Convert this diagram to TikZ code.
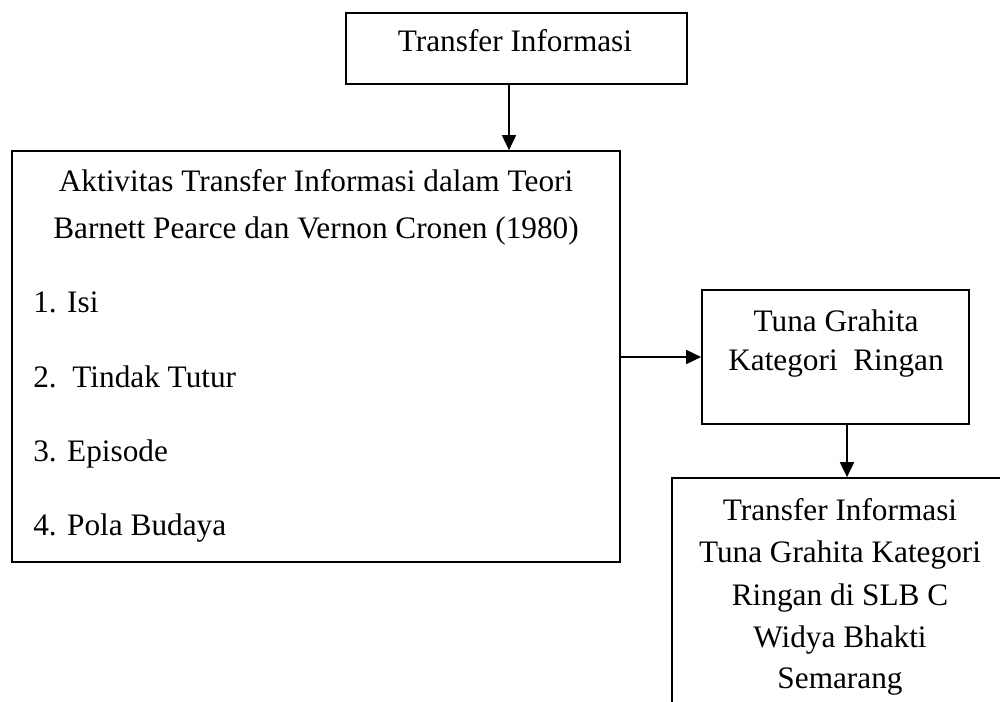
\documentclass[tikz,border=0pt]{standalone}
\usepackage{fontspec}
\setmainfont{Liberation Serif}
\usetikzlibrary{arrows.meta,calc}
\usetikzlibrary{positioning}

\begin{document}
\begin{tikzpicture}[x=0.02cm,y=-0.02cm,>={Triangle[length=0.3cm,width=0.28cm]},
  kotak/.style={draw,line width=1pt,rectangle,inner sep=0pt},
  teks/.style={font=\fontsize{17.8}{21}\selectfont,inner sep=0pt,anchor=base},
  panah/.style={->,line width=1pt}]
\useasboundingbox (0,0) rectangle (1000,702);
% boxes
\node[kotak,minimum width=6.82cm,minimum height=1.42cm] (transfer) at (516.5,48.5) {};
\node[kotak,minimum width=12.16cm,minimum height=8.22cm] (aktivitas) at (316,356.5) {};
\node[kotak,minimum width=5.34cm,minimum height=2.68cm] (tuna) at (835.5,357) {};
\node[kotak,minimum width=6.76cm,minimum height=4.84cm] (slb) at (841,599) {};
% texts
\node[teks] (transferteks) at (515,52) {Transfer Informasi};
\node[teks] (judul1) at (316,192) {Aktivitas Transfer Informasi dalam Teori};
\node[teks] (judul2) at (316,239) {Barnett Pearce dan Vernon Cronen (1980)};
\foreach \i/\y/\t in {1/313/1. Isi,2/387/2.\ \ Tindak Tutur,3/461/3. Episode,4/535/4. Pola Budaya}
  \node[teks,anchor=base west] (item\i) at (33,\y) {\t};
\node[teks] (tuna1) at (836,332) {Tuna Grahita};
\node[teks] (tuna2) at (836,370) {Kategori\ \ Ringan};
\foreach \i/\y/\t in {1/520/Transfer Informasi,2/562/Tuna Grahita Kategori,3/605/Ringan di SLB C,4/647/Widya Bhakti,5/688/Semarang}
  \node[teks] (slbteks\i) at (840,\y) {\t};
% arrows
\coordinate (p1) at ([xshift=-0.15cm]transfer.south);
\draw[panah] (p1) -- (p1 |- aktivitas.north);
\draw[panah] (aktivitas.east |- tuna.west) -- (tuna.west);
\coordinate (p2) at ([xshift=0.23cm]tuna.south);
\draw[panah] (p2) -- (p2 |- slb.north);
\end{tikzpicture}
\end{document}
